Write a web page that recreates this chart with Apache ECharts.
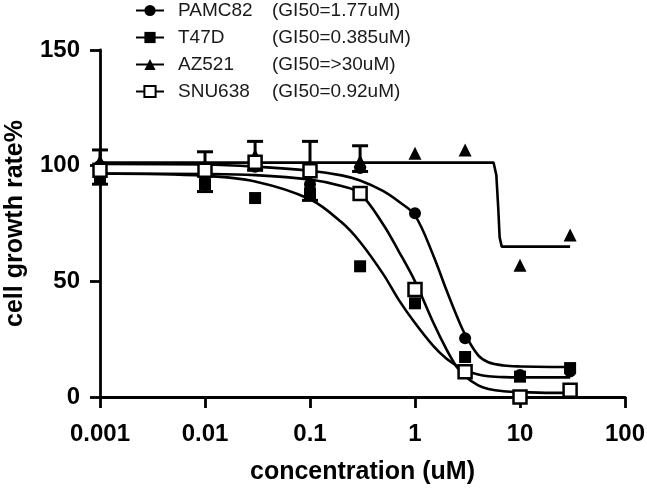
<!DOCTYPE html>
<html>
<head>
<meta charset="utf-8">
<script src="https://cdn.jsdelivr.net/npm/echarts@6/dist/echarts.min.js"></script>
<style>
html,body{margin:0;padding:0;background:#fff;}
#c{width:647px;height:491px;}
</style>
</head>
<body>
<div id="c"></div>
<script>
// ---- data ----
const seriesNames = ['PAMC82', 'T47D', 'AZ521', 'SNU638'];
const gi50Labels = ['(GI50=1.77uM)', '(GI50=0.385uM)', '(GI50=>30uM)', '(GI50=0.92uM)'];

// measured points
const conc = [0.001, 0.01, 0.03, 0.1, 0.3, 1, 3, 10, 30];
const pamc82 = [100, 96, 99.5, 92, 99, 79.4, 25.4, 9.5, 11];
const t47d = [95, 92, 86, 88, 56.5, 40.5, 17.3, 8.8, 12.5];
const az521 = [102, 99, 104.5, 100, 102, 105.4, 106.8, 57, 70];
const snu638 = [98, 98, 101.5, 97.8, 88, 46.5, 10.9, 0, 2.9];

// error bars (upper / lower whisker ends)
const errConc = [0.001, 0.01, 0.03, 0.1, 0.3];
const errLow = [92, 88.8, 98, 85, 97.5];
const errHigh = [106.8, 106, 110.5, 110.5, 108.6];

// fitted curves
const fitConc = [0.001, 0.01, 0.03, 0.1, 0.2, 0.3, 0.5, 0.7, 1, 1.5, 2, 2.5, 3, 4, 5, 7, 10, 20, 30];
const pamc82Fit = [100.7, 100.5, 99.6, 97.8, 95.8, 93.6, 89, 84.5, 78.5, 61, 46, 35, 27, 18, 15, 13.6, 13.2, 13, 13];
const t47dFit = [96.6, 95.6, 93.2, 85.5, 75.5, 67, 53, 42, 32, 22, 16.5, 13.5, 11.5, 9.7, 9, 8.6, 8.5, 8.5, 8.5];
const snu638Fit = [96.6, 96.4, 95.9, 94, 91.2, 88, 74.5, 63, 50, 32, 20.5, 13, 9, 5, 3.5, 2.5, 2.1, 1.8, 1.8];
const azFitConc = [0.001, 5.6, 5.95, 6.2, 6.4, 6.7, 30];
const az521Fit = [101.3, 101.3, 96, 82, 69, 65, 65];

// axis ticks
const xTickLabels = ['0.001', '0.01', '0.1', '1', '10', '100'];
const yTickLabels = ['0', '50', '100', '150'];

// ---- chart ----
const FONT = "'Liberation Sans', Arial, Helvetica, sans-serif";
const pts = (xs, ys) => xs.map((x, i) => [x, ys[i]]);
const symbols = {
  PAMC82: {symbol: 'circle', size: 12, item: {color: '#000', opacity: 1}},
  T47D: {symbol: 'rect', size: 12, item: {color: '#000', opacity: 1}},
  AZ521: {symbol: 'triangle', size: 13, item: {color: '#000', opacity: 1}},
  SNU638: {symbol: 'rect', size: 13, item: {color: '#fff', borderColor: '#000', borderWidth: 2.5, opacity: 1}}
};
const fits = {
  PAMC82: pts(fitConc, pamc82Fit),
  T47D: pts(fitConc, t47dFit),
  AZ521: pts(azFitConc, az521Fit),
  SNU638: pts(fitConc, snu638Fit)
};
const points = {
  PAMC82: pts(conc, pamc82),
  T47D: pts(conc, t47d),
  AZ521: pts(conc, az521),
  SNU638: pts(conc, snu638)
};
const giMap = {};
seriesNames.forEach((n, i) => giMap[n] = gi50Labels[i]);

const series = [];
seriesNames.forEach(n => {
  const s = symbols[n];
  series.push({
    name: n, type: 'line', data: fits[n],
    smooth: n === 'AZ521' ? false : 0.35,
    showSymbol: false, symbol: s.symbol, symbolSize: s.size,
    itemStyle: s.item,
    lineStyle: {color: '#000', width: 2.6},
    z: 2, silent: true, animation: false
  });
});
series.push({
  name: 'errors', type: 'custom', z: 3, animation: false, silent: true,
  data: errConc.map((c, i) => [c, errLow[i], errHigh[i]]),
  renderItem: function (params, api) {
    const lo = api.coord([api.value(0), api.value(1)]);
    const hi = api.coord([api.value(0), api.value(2)]);
    const w = 8;
    const st = {stroke: '#000', lineWidth: 3};
    return {type: 'group', children: [
      {type: 'line', shape: {x1: lo[0], y1: lo[1], x2: hi[0], y2: hi[1]}, style: st},
      {type: 'line', shape: {x1: hi[0] - w, y1: hi[1], x2: hi[0] + w, y2: hi[1]}, style: st},
      {type: 'line', shape: {x1: lo[0] - w, y1: lo[1], x2: lo[0] + w, y2: lo[1]}, style: st}
    ]};
  }
});
seriesNames.forEach(n => {
  const s = symbols[n];
  series.push({
    name: n, type: 'scatter', data: points[n],
    symbol: s.symbol, symbolSize: s.size, itemStyle: s.item,
    emphasis: {disabled: true},
    z: 4, animation: false
  });
});

const chart = echarts.init(document.getElementById('c'), null, {renderer: 'canvas'});
chart.setOption({
  backgroundColor: '#fff',
  animation: false,
  textStyle: {fontFamily: FONT},
  grid: {left: 100, right: 22, top: 50, bottom: 94, outerBoundsMode: 'none', containLabel: false},
  legend: {
    data: seriesNames,
    orient: 'vertical',
    left: 135, top: 1, padding: 0,
    itemWidth: 28, itemHeight: 14, itemGap: 8,
    selectedMode: false,
    formatter: n => '{n|' + n + '}{g|' + giMap[n] + '}',
    textStyle: {
      fontFamily: FONT, fontSize: 19, color: '#1a1a1a', lineHeight: 19,
      rich: {
        n: {fontFamily: FONT, fontSize: 19, color: '#1a1a1a', width: 94, padding: [0, 0, 0, 9]},
        g: {fontFamily: FONT, fontSize: 19, color: '#1a1a1a'}
      }
    }
  },
  xAxis: {
    type: 'log', logBase: 10, min: 0.001, max: 100,
    name: 'concentration (uM)', nameLocation: 'middle', nameGap: 63,
    nameTextStyle: {fontFamily: FONT, fontSize: 25, fontWeight: 'bold', color: '#000'},
    axisLine: {show: true, onZero: false, lineStyle: {color: '#000', width: 2.8}},
    axisTick: {show: true, length: 11, lineStyle: {color: '#000', width: 2.8}},
    minorTick: {show: false},
    splitLine: {show: false},
    axisLabel: {
      margin: 25, fontFamily: FONT, fontSize: 24, fontWeight: 'bold', color: '#000',
      formatter: v => xTickLabels[Math.round(Math.log10(v)) + 3]
    }
  },
  yAxis: {
    type: 'value', min: 0, max: 150, interval: 50,
    name: 'cell growth rate%', nameLocation: 'middle', nameGap: 72,
    nameTextStyle: {fontFamily: FONT, fontSize: 25, fontWeight: 'bold', color: '#000'},
    axisLine: {show: true, lineStyle: {color: '#000', width: 2.8}},
    axisTick: {show: true, length: 10, lineStyle: {color: '#000', width: 2.8}},
    splitLine: {show: false},
    axisLabel: {
      margin: 20, fontFamily: FONT, fontSize: 24, fontWeight: 'bold', color: '#000',
      formatter: v => yTickLabels[Math.round(v / 50)]
    }
  },
  series: series
});
</script>
</body>
</html>
